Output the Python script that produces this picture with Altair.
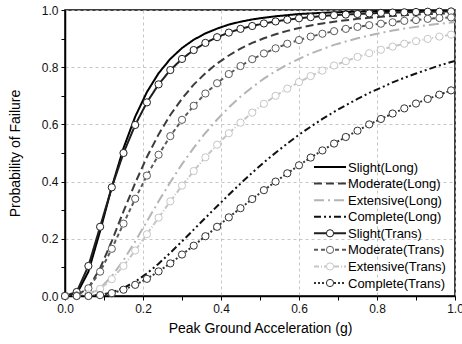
import altair as alt
import pandas as pd

pga = [0.00, 0.03, 0.06, 0.09, 0.12, 0.15, 0.18, 0.21, 0.24, 0.27, 0.30, 0.33,
       0.36, 0.39, 0.42, 0.45, 0.48, 0.51, 0.54, 0.57, 0.60, 0.63, 0.66, 0.69,
       0.72, 0.75, 0.78, 0.81, 0.84, 0.87, 0.90, 0.93, 0.96, 0.99, 1.00]

slight_long = [0.000, 0.007, 0.085, 0.227, 0.381, 0.517, 0.627, 0.713, 0.779, 0.829, 0.867, 0.896,
               0.918, 0.935, 0.949, 0.959, 0.967, 0.973, 0.978, 0.982, 0.986, 0.988, 0.990, 0.992,
               0.993, 0.994, 0.995, 0.996, 0.997, 0.997, 0.998, 0.998, 0.998, 0.999, 0.999]
moderate_long = [0.000, 0.002, 0.028, 0.097, 0.192, 0.296, 0.395, 0.486, 0.565, 0.633, 0.690, 0.739,
                 0.779, 0.813, 0.841, 0.865, 0.885, 0.901, 0.915, 0.927, 0.937, 0.946, 0.953, 0.959,
                 0.964, 0.969, 0.973, 0.976, 0.979, 0.982, 0.984, 0.986, 0.987, 0.989, 0.989]
extensive_long = [0.000, 0.000, 0.006, 0.027, 0.069, 0.125, 0.191, 0.261, 0.331, 0.398, 0.461, 0.518,
                  0.570, 0.617, 0.659, 0.697, 0.730, 0.760, 0.786, 0.809, 0.829, 0.848, 0.863, 0.878,
                  0.890, 0.901, 0.911, 0.920, 0.928, 0.935, 0.941, 0.947, 0.952, 0.956, 0.958]
complete_long = [0.000, 0.000, 0.001, 0.004, 0.012, 0.028, 0.050, 0.079, 0.113, 0.151, 0.191, 0.232,
                 0.273, 0.314, 0.354, 0.393, 0.431, 0.467, 0.501, 0.533, 0.564, 0.592, 0.619, 0.644,
                 0.667, 0.689, 0.710, 0.728, 0.747, 0.763, 0.778, 0.792, 0.806, 0.818, 0.822]
slight_trans = [0.000, 0.014, 0.105, 0.242, 0.380, 0.500, 0.598, 0.677, 0.740, 0.790, 0.829, 0.860,
                0.885, 0.905, 0.921, 0.934, 0.944, 0.953, 0.960, 0.966, 0.971, 0.975, 0.979, 0.982,
                0.984, 0.986, 0.988, 0.990, 0.991, 0.992, 0.993, 0.994, 0.994, 0.995, 0.995]
moderate_trans = [0.000, 0.002, 0.027, 0.085, 0.165, 0.253, 0.340, 0.421, 0.494, 0.559, 0.616, 0.665,
                  0.708, 0.744, 0.776, 0.804, 0.828, 0.848, 0.866, 0.882, 0.895, 0.907, 0.917, 0.926,
                  0.934, 0.941, 0.947, 0.952, 0.957, 0.962, 0.965, 0.969, 0.972, 0.974, 0.975]
extensive_trans = [0.000, 0.000, 0.006, 0.025, 0.059, 0.105, 0.159, 0.216, 0.274, 0.331, 0.386, 0.437,
                   0.485, 0.529, 0.569, 0.606, 0.641, 0.672, 0.700, 0.725, 0.748, 0.769, 0.788, 0.806,
                   0.821, 0.836, 0.849, 0.861, 0.872, 0.882, 0.891, 0.899, 0.907, 0.914, 0.916]
complete_trans = [0.000, 0.000, 0.000, 0.003, 0.010, 0.022, 0.039, 0.060, 0.086, 0.114, 0.145, 0.176,
                  0.209, 0.242, 0.275, 0.307, 0.339, 0.370, 0.400, 0.429, 0.457, 0.484, 0.509, 0.533,
                  0.556, 0.578, 0.600, 0.619, 0.638, 0.656, 0.673, 0.689, 0.704, 0.719, 0.722]

series_names = ["Slight(Long)", "Moderate(Long)", "Extensive(Long)", "Complete(Long)",
                "Slight(Trans)", "Moderate(Trans)", "Extensive(Trans)", "Complete(Trans)"]
series_values = [slight_long, moderate_long, extensive_long, complete_long,
                 slight_trans, moderate_trans, extensive_trans, complete_trans]

colors = ["#000000", "#3c3c3c", "#b4b4b4", "#111111",
          "#1e1e1e", "#5a5a5a", "#c6c6c6", "#333333"]
dashes = [[1, 0], [8, 4], [10, 4, 2, 4], [7, 3, 2, 3, 2, 3],
          [1, 0], [4, 3], [5, 2, 1, 2], [2, 2]]
widths = [2.0, 2.0, 2.0, 2.0, 1.0, 1.0, 1.0, 1.0]

rows = []
for name, vals in zip(series_names, series_values):
    for xv, yv in zip(pga, vals):
        rows.append({"series": name, "pga": xv, "pf": yv})
df = pd.DataFrame(rows)
legend_df = pd.DataFrame({"series": series_names,
                          "trans": [("Trans" in s) for s in series_names]})

font = "Liberation Sans"
xs = alt.Scale(domain=[0, 1], nice=False)
ys = alt.Scale(domain=[0, 1], nice=False)
tick_vals = [round(i * 0.1, 1) for i in range(11)]
grid_cond = {"condition": {"test": "round(datum.value*10) % 2 == 0", "value": 1}, "value": 0}
lab_expr = "round(datum.value*10) % 2 == 0 ? format(datum.value, '.1f') : ''"

x_enc = alt.X("pga:Q", scale=xs, title="Peak Ground Acceleration (g)",
              axis=alt.Axis(values=tick_vals, labelExpr=lab_expr, gridOpacity=grid_cond,
                            labelFlush=False, titlePadding=7))
y_enc = alt.Y("pf:Q", scale=ys, title="Probability of Failure",
              axis=alt.Axis(values=tick_vals, labelExpr=lab_expr, gridOpacity=grid_cond,
                            labelFlush=False, titlePadding=19))

stroke_scale = alt.Scale(domain=series_names, range=colors)
dash_scale = alt.Scale(domain=series_names, range=dashes)
width_scale = alt.Scale(domain=series_names, range=widths)

lines = alt.Chart(df).mark_line(clip=True).encode(
    x=x_enc, y=y_enc,
    stroke=alt.Stroke("series:N", scale=stroke_scale, legend=None),
    strokeDash=alt.StrokeDash("series:N", scale=dash_scale, legend=None),
    strokeWidth=alt.StrokeWidth("series:N", scale=width_scale, legend=None),
    detail="series:N",
)

points = alt.Chart(df).transform_filter(
    "indexof(datum.series, 'Trans') >= 0 && datum.pga <= 0.995"
).mark_point(shape="circle", size=52, filled=True, fill="white", strokeWidth=1, opacity=1).encode(
    x=x_enc, y=y_enc,
    stroke=alt.Stroke("series:N", scale=stroke_scale, legend=None),
)

data_layers = alt.layer(lines, points)

# in-plot legend, laid out by a point scale over the series names
leg_y = alt.Y("series:N", scale=alt.Scale(type="point", domain=series_names, range=[157, 273], padding=0),
              axis=None)

leg_lines = alt.Chart(legend_df).mark_rule().encode(
    x=alt.value(249), x2=alt.value(281), y=leg_y,
    stroke=alt.Stroke("series:N", scale=stroke_scale, legend=None),
    strokeDash=alt.StrokeDash("series:N", scale=dash_scale, legend=None),
    strokeWidth=alt.StrokeWidth("series:N", scale=width_scale, legend=None),
)
leg_points = alt.Chart(legend_df).transform_filter("datum.trans").mark_point(
    shape="circle", size=52, filled=True, fill="white", strokeWidth=1, opacity=1
).encode(
    x=alt.value(265), y=leg_y,
    stroke=alt.Stroke("series:N", scale=stroke_scale, legend=None),
)
leg_text = alt.Chart(legend_df).mark_text(
    align="left", baseline="middle", font=font, fontSize=13, color="#000", dy=0.5
).encode(x=alt.value(283), y=leg_y, text="series:N")

legend_layers = alt.layer(leg_lines, leg_points, leg_text)

chart = alt.layer(data_layers, legend_layers).resolve_scale(y="independent").properties(
    width=390, height=286,
    autosize=alt.AutoSizeParams(type="none"),
    padding={"left": 65, "top": 10, "right": 7, "bottom": 48},
).configure_view(stroke="#000", strokeWidth=1.5).configure_axis(
    domainColor="#000", domainWidth=1.5, tickColor="#000", tickSize=4, tickWidth=1,
    labelFont=font, labelFontSize=12, labelColor="#111", labelPadding=3,
    titleFont=font, titleFontSize=14, titleFontWeight="normal", titleColor="#000",
    gridColor="#b8b8b8", gridDash=[3, 3], gridWidth=0.8,
)

chart.save("out.html", embed_options={"renderer": "svg", "actions": False})
